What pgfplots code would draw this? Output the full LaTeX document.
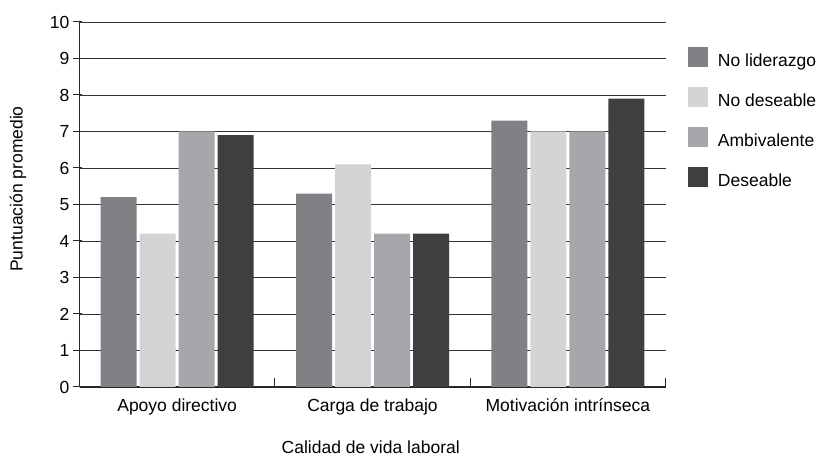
\documentclass[border=0pt]{standalone}
\usepackage{pgfplots}
\pgfplotsset{compat=1.18}
\usepackage{fontspec}
\setmainfont{Liberation Sans}
\definecolor{cNoLid}{RGB}{128,129,133}
\definecolor{cNoDes}{RGB}{212,212,214}
\definecolor{cAmb}{RGB}{166,167,170}
\definecolor{cDes}{RGB}{63,63,63}
\begin{document}
\fontsize{17.5bp}{21bp}\selectfont
\begin{tikzpicture}[x=1bp,y=1bp]
\path[use as bounding box] (0,0) rectangle (820,459);
\begin{axis}[
  at={(79.5bp,72bp)}, anchor=south west,
  scale only axis, width=586bp, height=365bp,
  xmin=-0.5, xmax=2.5, ymin=0, ymax=10,
  ybar, bar width=36bp,
  axis x line*=bottom, axis y line*=left,
  axis line style={-, line width=1.2bp, black!85},
  xtick={-0.5,0.5,1.5,2.5},
  x tick label as interval,
  xticklabels={Apoyo directivo, Carga de trabajo, Motivación intrínseca},
  tick align=inside, major tick length=9bp,
  x tick style={black!85, line width=1bp},
  ytick={0,1,...,10},
  y tick style={black!85, line width=1bp, xshift=-6.5bp},
  ymajorgrids, grid style={black!80, line width=0.9bp},
  /pgf/number format/assume math mode=true,
  yticklabel style={inner sep=0pt, xshift=-10bp},
  xticklabel style={yshift=-6bp},
  ylabel={Puntuación promedio},
  ylabel style={at={(axis description cs:-0.105,0.5425)}, anchor=center, rotate=0},
  xlabel={Calidad de vida laboral},
  xlabel style={at={(axis description cs:0.497,-0.166)}, anchor=center, inner sep=0pt},
  legend cell align=left,
  legend image code/.code={\fill[#1] (0bp,-6bp) rectangle (20bp,14bp);},
  legend style={at={(axis description cs:1.038,0.932)}, anchor=north west,
    draw=none, fill=none, inner sep=0pt, row sep=18.5bp,
    nodes={inner sep=0pt},
    /tikz/every odd column/.style={column sep=10bp}},
]
\addplot[fill=cNoLid, draw=none, bar shift=-58.5bp] coordinates {(0,5.2) (1,5.3) (2,7.3)};
\addplot[fill=cNoDes, draw=none, bar shift=-19.5bp] coordinates {(0,4.2) (1,6.1) (2,7.0)};
\addplot[fill=cAmb, draw=none, bar shift=19.5bp] coordinates {(0,7.0) (1,4.2) (2,7.0)};
\addplot[fill=cDes, draw=none, bar shift=58.5bp] coordinates {(0,6.9) (1,4.2) (2,7.9)};
\legend{No liderazgo, No deseable, Ambivalente, Deseable}
\end{axis}
\end{tikzpicture}
\end{document}
